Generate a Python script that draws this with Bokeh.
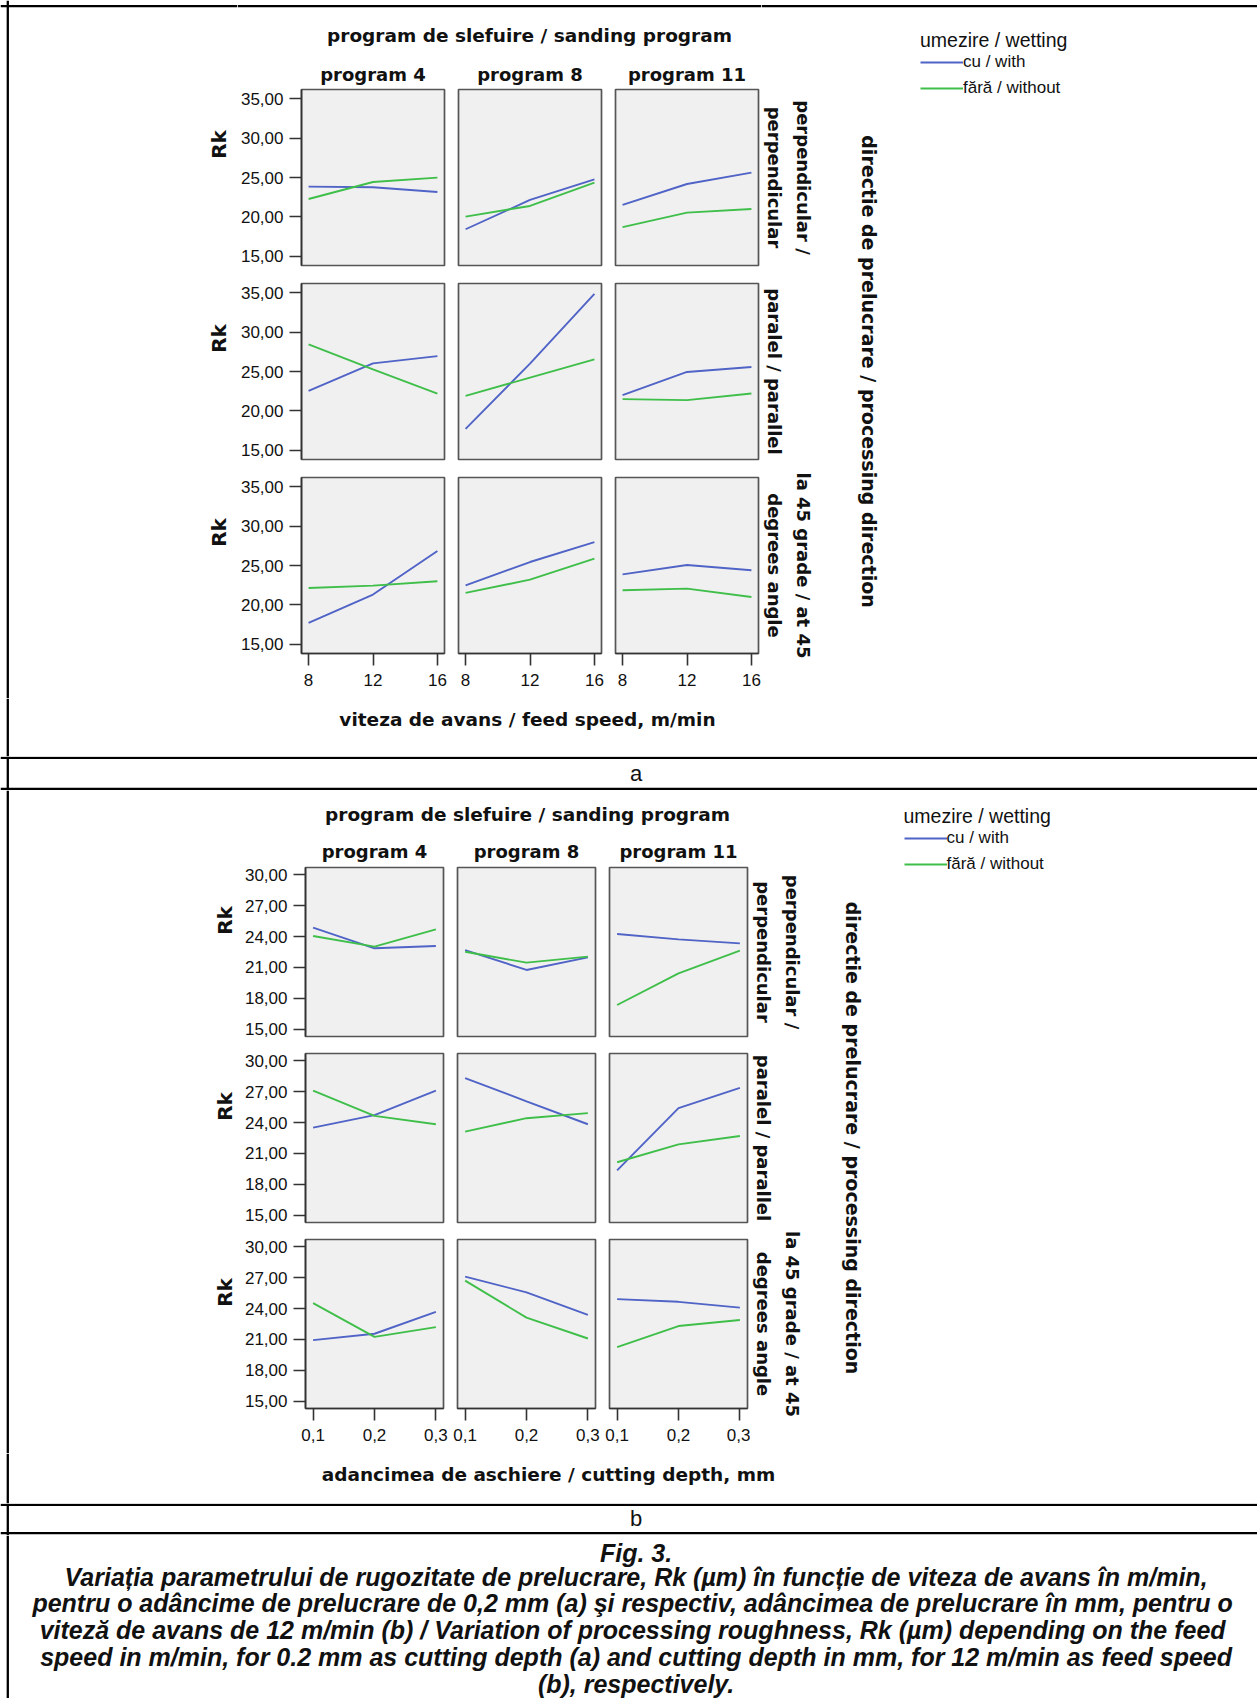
import math
from bokeh.plotting import figure
from bokeh.layouts import row, column
from bokeh.models import Range1d, FixedTicker, Span, Legend, LegendItem
from bokeh.core.properties import value
from bokeh.embed import file_html
from bokeh.resources import INLINE

# ---------------- data ----------------
programs = ["program 4", "program 8", "program 11"]
wetting = ["cu / with", "fără / without"]
feed_speed = [8, 12, 16]          # m/min  (figure a)
cutting_depth = [0.1, 0.2, 0.3]   # mm     (figure b)

# (a) Rk vs feed speed; each list = [program 4, program 8, program 11]
a_perp_cu = [[23.84, 23.76, 23.17], [18.45, 22.16, 24.77], [21.53, 24.18, 25.61]]
a_perp_fara = [[22.28, 24.43, 24.98], [20.05, 21.40, 24.35], [18.71, 20.56, 21.02]]
a_par_cu = [[22.55, 26.03, 26.95], [17.73, 26.00, 34.83], [22.00, 24.94, 25.57]]
a_par_fara = [[28.42, 25.27, 22.21], [21.92, 24.22, 26.53], [21.50, 21.37, 22.21]]
a_45_cu = [[17.74, 21.32, 26.83], [22.49, 25.44, 27.97], [23.88, 25.06, 24.39]]
a_45_fara = [[22.16, 22.45, 23.00], [21.53, 23.21, 25.86], [21.86, 22.07, 21.02]]

# (b) Rk vs cutting depth
b_perp_cu = [[24.87, 22.86, 23.08], [22.69, 20.75, 21.98], [24.25, 23.73, 23.34]]
b_perp_fara = [[24.06, 23.02, 24.71], [22.53, 21.46, 22.05], [17.34, 20.42, 22.63]]
b_par_cu = [[23.51, 24.73, 27.12], [28.33, 26.07, 23.84], [19.35, 25.41, 27.38]]
b_par_fara = [[27.12, 24.66, 23.84], [23.12, 24.43, 24.92], [20.14, 21.88, 22.70]]
b_45_cu = [[20.93, 21.55, 23.68], [27.12, 25.58, 23.38], [24.92, 24.66, 24.10]]
b_45_fara = [[24.53, 21.25, 22.20], [26.72, 23.12, 21.09], [20.24, 22.30, 22.89]]

a_yticks = [15, 20, 25, 30, 35]
a_ytick_labels = ["15,00", "20,00", "25,00", "30,00", "35,00"]
a_xtick_labels = ["8", "12", "16"]
b_yticks = [15, 18, 21, 24, 27, 30]
b_ytick_labels = ["15,00", "18,00", "21,00", "24,00", "27,00", "30,00"]
b_xtick_labels = ["0,1", "0,2", "0,3"]

row_labels = [["perpendicular /", "perpendicular"],
              ["paralel / parallel"],
              ["la 45 grade / at 45", "degrees angle"]]
col_title = "program de slefuire / sanding program"
row_title = "directie de prelucrare / processing direction"
legend_title = "umezire / wetting"
a_xtitle = "viteza de avans / feed speed, m/min"
b_xtitle = "adancimea de aschiere / cutting depth, mm"
y_title = "Rk"
caption = [
    "Fig. 3.",
    "Variația parametrului de rugozitate de prelucrare, Rk (µm) în funcție de viteza de avans în m/min,",
    "pentru o adâncime de prelucrare de 0,2 mm (a) şi respectiv,  adâncimea de prelucrare în mm, pentru o",
    "viteză de avans de 12 m/min  (b) / Variation of processing roughness, Rk (µm) depending on the feed",
    "speed in m/min, for 0.2 mm as cutting depth (a) and cutting depth in mm, for 12 m/min as feed speed",
    "(b), respectively.",
]

# ---------------- styles ----------------
BLUE = "#5063c6"
GREEN = "#3fbf4a"
BOLD_FONT = "DejaVu Sans"
REG_FONT = "Liberation Sans"
TXT = "#111111"
W = 1257
BORDER_X = 7.3
BORDER_TOP = 5.7


def text_fig(w, h):
    p = figure(width=w, height=h, x_range=Range1d(0, w), y_range=Range1d(h, 0),
               x_axis_location=None, y_axis_location=None, min_border=0, title=None,
               output_backend="svg", toolbar_location=None, outline_line_color=None,
               background_fill_color="white", border_fill_color="white")
    p.grid.visible = False
    return p


def add_text(p, x, y, txt, size, style="normal", font=BOLD_FONT, angle=0.0, align="center"):
    p.text(x=[x], y=[y], text=[txt], text_font=value(font), text_font_size=value(f"{size}px"),
           text_font_style=style, angle=angle, text_align=align, text_baseline="middle",
           text_color=TXT)


def hline(p, y):
    p.add_layout(Span(location=y, dimension="width", line_color="black", line_width=2.3))


def vline(p, x):
    p.add_layout(Span(location=x, dimension="height", line_color="black", line_width=2.3))


def make_panel(xs, cu, fara, xr, yr, fw, fh, bl, br, bt, bb, left_axis, bottom_axis,
               xlabels, yticks, ylabels):
    p = figure(width=bl + fw + br, height=bt + fh + bb, x_range=Range1d(*xr), y_range=Range1d(*yr),
               x_axis_location="below" if bottom_axis else None,
               y_axis_location="left" if left_axis else None,
               min_border_left=bl, min_border_right=br, min_border_top=bt, min_border_bottom=bb,
               output_backend="svg", toolbar_location=None, title=None,
               background_fill_color="#f0f0f0", border_fill_color="white",
               outline_line_color="#555555", outline_line_width=1.7)
    p.grid.visible = False
    for axes, ticks, labels, standoff in ((p.xaxis, xs, xlabels, 8), (p.yaxis, yticks, ylabels, 6)):
        if len(axes) == 0:
            continue
        axes.ticker = FixedTicker(ticks=list(ticks))
        axes.major_label_overrides = {t: l for t, l in zip(ticks, labels)}
        axes.major_tick_out = 12
        axes.major_tick_in = 0
        axes.minor_tick_line_color = None
        axes.major_tick_line_color = "#333333"
        axes.major_tick_line_width = 1.6
        axes.axis_line_color = "#333333"
        axes.axis_line_width = 1.6
        axes.major_label_text_font = REG_FONT
        axes.major_label_text_font_size = "17px"
        axes.major_label_text_color = TXT
        axes.major_label_standoff = standoff
    p.line(x=list(xs), y=cu, line_color=BLUE, line_width=1.9)
    p.line(x=list(xs), y=fara, line_color=GREEN, line_width=1.9)
    return p


def add_legend(p, vx, vy):
    nan = float("nan")
    r1 = p.line(x=[nan, nan], y=[nan, nan], line_color=BLUE, line_width=2)
    r2 = p.line(x=[nan, nan], y=[nan, nan], line_color=GREEN, line_width=2)
    leg = Legend(items=[LegendItem(label=wetting[0], renderers=[r1]),
                        LegendItem(label=wetting[1], renderers=[r2])],
                 title=legend_title, location=(vx, vy), padding=0, margin=0, spacing=6,
                 glyph_width=43, glyph_height=20, label_height=20, label_standoff=0,
                 border_line_color=None, background_fill_alpha=0, title_standoff=0,
                 label_text_font=REG_FONT, label_text_font_size="17px", label_text_color=TXT,
                 label_text_align="left",
                 title_text_font=REG_FONT, title_text_font_size="19.5px",
                 title_text_font_style="normal", title_text_color=TXT)
    p.add_layout(leg)


def build_block(xs, data_cu, data_fara, xr, yr, xlabels, yticks, ylabels, xtitle, g):
    fw, fh = g["fw"], g["fh"]
    left_w = g["left_w"]
    col_b = [(64, 7), (7, 7), (7, 3)]
    row_b = [(4, g["rb0"]), (9, g["rb1"]), (9, 45)]
    mid_w = sum(l + fw + r for l, r in col_b)
    right_w = W - left_w - mid_w
    Hu = g["top_h"] + sum(t + fh + b for t, b in row_b)

    left = text_fig(left_w, Hu)
    top = text_fig(mid_w, g["top_h"])
    right = text_fig(right_w, Hu)
    bottom = text_fig(W, g["bot_h"])

    rows = []
    for ri in range(3):
        figs = []
        for ci in range(3):
            bl, br = col_b[ci]
            bt, bb = row_b[ri]
            figs.append(make_panel(xs, data_cu[ri][ci], data_fara[ri][ci], xr, yr, fw, fh,
                                   bl, br, bt, bb, ci == 0, ri == 2, xlabels, yticks, ylabels))
        rows.append(row(*figs))

    frame_tops = []
    y = g["top_h"]
    for bt, bb in row_b:
        frame_tops.append(y + bt)
        y += bt + fh + bb
    frame_lefts = []
    x = left_w
    for bl, br in col_b:
        frame_lefts.append(x + bl)
        x += bl + fw + br
    panel_right = frame_lefts[2] + fw

    # left: Rk labels + frame border
    vline(left, BORDER_X)
    vline(bottom, BORDER_X)
    if g["top_border"]:
        hline(left, BORDER_TOP)
        hline(top, BORDER_TOP)
        hline(right, BORDER_TOP)
    for ft in frame_tops:
        add_text(left, g["rk_x"], ft + g["rk_off"], y_title, 20, "bold", angle=math.pi / 2)

    # top: title + column headers
    add_text(top, g["title_x"] - left_w, g["title_y"], col_title, 18.5, "bold")
    for ci, name in enumerate(programs):
        add_text(top, frame_lefts[ci] + fw / 2 - left_w, g["head_y"], name, 18, "bold")

    # bottom: x title
    add_text(bottom, g["xt_x"], g["xt_y"], xtitle, 18.5, "bold")

    # right: strip labels + direction title + legend
    rx0 = left_w + mid_w
    for ri, lines in enumerate(row_labels):
        cy = frame_tops[ri] + fh / 2
        if len(lines) == 1:
            add_text(right, panel_right + 16 - rx0, cy, lines[0], 18, "bold", angle=-math.pi / 2)
        else:
            add_text(right, panel_right + 45 - rx0, cy, lines[0], 18, "bold", angle=-math.pi / 2)
            add_text(right, panel_right + 16 - rx0, cy, lines[1], 18, "bold", angle=-math.pi / 2)
    add_text(right, g["dir_x"] - rx0, frame_tops[1] + fh / 2, row_title, 19, "bold", angle=-math.pi / 2)
    add_legend(right, g["leg_x"] - rx0, Hu - g["leg_top"] - 68.4)

    mid = column(top, *rows)
    return column(row(left, mid, right), bottom)


gA = dict(fw=143, fh=176, left_w=237, top_h=85, bot_h=58, rb0=9, rb1=9,
          top_border=True, rk_x=218, rk_off=55, title_x=529, title_y=34.7, head_y=73.7,
          xt_x=527, xt_y=21, dir_x=868, leg_x=920, leg_top=29.5)
gB = dict(fw=138, fh=169, left_w=241, top_h=73, bot_h=50, rb0=8, rb1=8,
          top_border=False, rk_x=224, rk_off=53, title_x=527, title_y=23.5, head_y=61.4,
          xt_x=548, xt_y=21, dir_x=852.5, leg_x=903.5, leg_top=15.5)

blockA = build_block(feed_speed, [a_perp_cu, a_par_cu, a_45_cu], [a_perp_fara, a_par_fara, a_45_fara],
                     (7.56, 16.44), (13.86, 36.14), a_xtick_labels, a_yticks, a_ytick_labels, a_xtitle, gA)
blockB = build_block(cutting_depth, [b_perp_cu, b_par_cu, b_45_cu], [b_perp_fara, b_par_fara, b_45_fara],
                     (0.0876, 0.3124), (14.27, 30.73), b_xtick_labels, b_yticks, b_ytick_labels, b_xtitle, gB)

CX = 635.6
fa = text_fig(W, 34)
vline(fa, BORDER_X)
hline(fa, 1.3)
hline(fa, 32.3)
add_text(fa, CX, 17, "a", 22, "normal", font=REG_FONT)

fb = text_fig(W, 32)
vline(fb, BORDER_X)
hline(fb, 1.4)
hline(fb, 29.6)
add_text(fb, CX, 15.4, "b", 22, "normal", font=REG_FONT)

fc = text_fig(W, 163)
vline(fc, BORDER_X)
for ln, yy in zip(caption, [17, 41, 67.8, 94.6, 121.4, 148.2]):
    add_text(fc, CX, yy, ln, 25, "bold italic", font=REG_FONT)

layout = column(blockA, fa, blockB, fb, fc)
open("out.html", "w").write(file_html(layout, INLINE, title="Fig. 3"))
